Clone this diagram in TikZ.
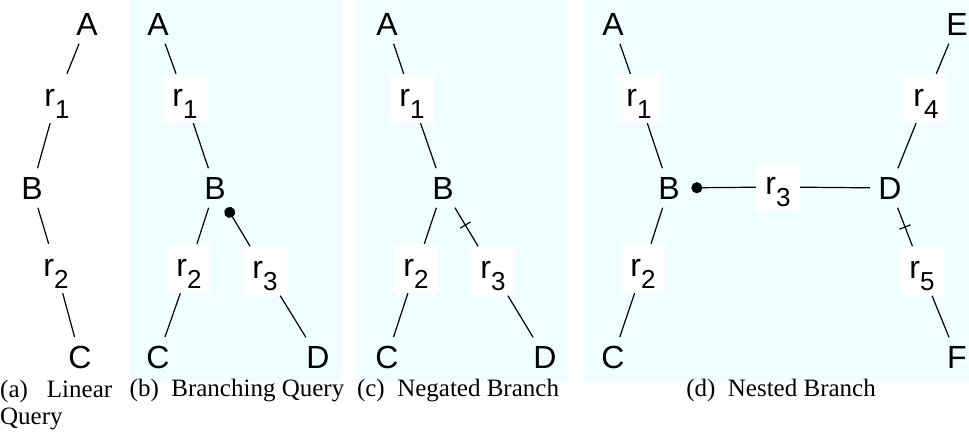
\documentclass[tikz,border=0pt]{standalone}
\usepackage{fontspec}
\setmainfont{Liberation Serif}
\newfontfamily\labfont{Liberation Sans}
\usetikzlibrary{arrows.meta,decorations.markings}
\definecolor{panelbg}{RGB}{239,254,254}
\newcommand\rsub[1]{r\raisebox{-12pt}{\fontsize{26}{26}\selectfont #1}}
\begin{document}
\begin{tikzpicture}[x=1pt,y=-1pt,
  lbl/.style={font=\labfont\fontsize{32}{32}\selectfont, inner sep=8.5pt},
  rel/.style={font=\labfont\fontsize{32}{32}\selectfont, fill=white, inner sep=0pt, minimum width=44pt, text height=32pt, text depth=17pt},
  conn/.style={line width=1.2pt},
  dotstart/.style={{Circle[length=11pt]}-},
  negtick/.style={postaction={decorate}, decoration={markings, mark=at position #1 with {\draw[line width=1.2pt] (0,-6pt) -- (0,6pt);}}},
  captext/.style={font=\fontsize{25}{30}\selectfont, inner sep=0pt, anchor=base}
]
\useasboundingbox (0,0) rectangle (969,440);
\fill[panelbg] (130,0) rectangle (342,382);
\fill[panelbg] (357,0) rectangle (568,382);
\fill[panelbg] (584,0) rectangle (969,382);

% (a) Linear Query
\node[lbl] (aA) at (87,24) {A};
\node[rel] (ar1) at (57,98.5) {\rsub{1}};
\node[lbl] (aB) at (32,188) {B};
\node[rel] (ar2) at (56,268.5) {\rsub{2}};
\node[lbl] (aC) at (80,357) {C};
\draw[conn] (aA) -- (ar1);
\draw[conn] (ar1) -- (aB);
\draw[conn] (aB) -- (ar2);
\draw[conn] (ar2) -- (aC);
\node[captext, anchor=base west] (acap) at (0,397) {\makebox[112pt][s]{(a)\ Linear}};
\node[captext, anchor=base west] (acap2) at (0,424) {Query};

% (b) Branching Query
\node[lbl] (bA) at (158,24) {A};
\node[rel] (br1) at (185,98.5) {\rsub{1}};
\node[lbl] (bB) at (215,188) {B};
\node[rel] (br2) at (189,268.5) {\rsub{2}};
\node[rel] (br3) at (265,271) {\rsub{3}};
\node[lbl] (bC) at (158,357) {C};
\node[lbl] (bD) at (318,357) {D};
\draw[conn] (bA) -- (br1);
\draw[conn] (br1) -- (bB);
\draw[conn] (bB) -- (br2);
\draw[conn] (br2) -- (bC);
\draw[conn,dotstart] (bB) -- (br3);
\draw[conn] (br3) -- (bD);
\node[captext] (bcap) at (237,396) {(b)\ \ Branching Query};

% (c) Negated Branch
\node[lbl] (cA) at (387,24) {A};
\node[rel] (cr1) at (412,98.5) {\rsub{1}};
\node[lbl] (cB) at (443,188) {B};
\node[rel] (cr2) at (416,268.5) {\rsub{2}};
\node[rel] (cr3) at (493,271) {\rsub{3}};
\node[lbl] (cC) at (387,357) {C};
\node[lbl] (cD) at (545,357) {D};
\draw[conn] (cA) -- (cr1);
\draw[conn] (cr1) -- (cB);
\draw[conn] (cB) -- (cr2);
\draw[conn] (cr2) -- (cC);
\draw[conn,negtick=0.45] (cB) -- (cr3);
\draw[conn] (cr3) -- (cD);
\node[captext] (ccap) at (458,396) {(c)\ \ Negated Branch};

% (d) Nested Branch
\node[lbl] (dA) at (613,24) {A};
\node[rel] (dr1) at (639,98.5) {\rsub{1}};
\node[lbl] (dB) at (669,188) {B};
\node[rel] (dr2) at (643,268.5) {\rsub{2}};
\node[lbl] (dC) at (613,357) {C};
\node[rel] (dr3) at (778,187) {\rsub{3}};
\node[lbl] (dD) at (890,188) {D};
\node[lbl] (dE) at (957,24) {E};
\node[rel] (dr4) at (926,98.5) {\rsub{4}};
\node[rel] (dr5) at (922,271) {\rsub{5}};
\node[lbl] (dF) at (957,357) {F};
\draw[conn] (dA) -- (dr1);
\draw[conn] (dr1) -- (dB);
\draw[conn] (dB) -- (dr2);
\draw[conn] (dr2) -- (dC);
\draw[conn,dotstart,shorten <=3pt] (dB) -- (dr3);
\draw[conn] (dr3) -- (dD);
\draw[conn] (dD) -- (dr4);
\draw[conn] (dr4) -- (dE);
\draw[conn,negtick=0.5] (dD) -- (dr5);
\draw[conn] (dr5) -- (dF);
\node[captext] (dcap) at (781,396) {(d)\ \ Nested Branch};
\end{tikzpicture}
\end{document}
